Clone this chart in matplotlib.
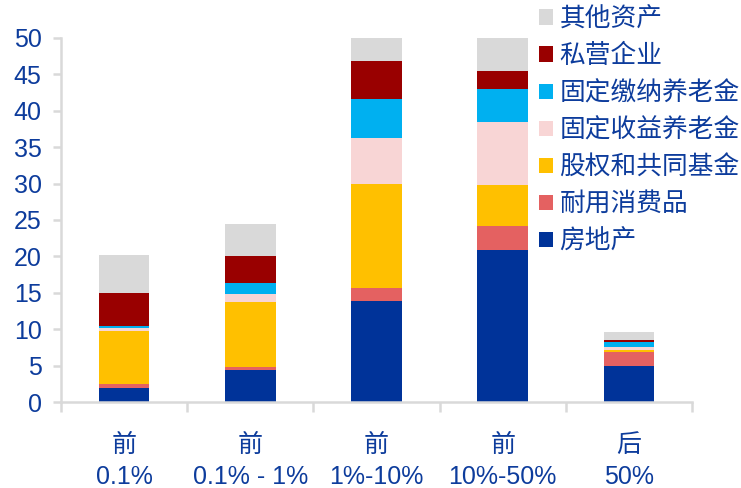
import matplotlib
matplotlib.use('Agg')
import matplotlib.pyplot as plt
from matplotlib.patches import Patch
import numpy as np

plt.rcParams['font.family'] = ['Liberation Sans', 'Noto Sans CJK SC']

categories = ['前\n0.1%', '前\n0.1% - 1%', '前\n1%-10%', '前\n10%-50%', '后\n50%']

series_names = ['房地产', '耐用消费品', '股权和共同基金', '固定收益养老金',
                '固定缴纳养老金', '私营企业', '其他资产']
real_estate = [1.9, 4.4, 13.9, 20.9, 5.0]
durables = [0.6, 0.4, 1.7, 3.3, 1.8]
equity_funds = [7.3, 9.0, 14.3, 5.6, 0.3]
db_pension = [0.35, 1.0, 6.3, 8.6, 0.5]
dc_pension = [0.25, 1.5, 5.4, 4.6, 0.7]
private_biz = [4.6, 3.8, 5.3, 2.4, 0.15]
other_assets = [5.2, 4.4, 3.2, 4.7, 1.15]

series = [real_estate, durables, equity_funds, db_pension,
          dc_pension, private_biz, other_assets]
colors = ['#003399', '#E46161', '#FFC000', '#F8D5D5',
          '#00B0F0', '#990000', '#D9D9D9']
txt_color = '#0D3C9C'
fs = 18

fig = plt.figure(figsize=(7.41, 4.88), dpi=100)
ax = fig.add_axes([61 / 741, 1 - 402 / 488, 631 / 741, 364 / 488])

x = np.arange(len(categories))
bottom = np.zeros(len(categories))
for vals, name, c in zip(series, series_names, colors):
    ax.bar(x, vals, bottom=bottom, width=0.4, color=c, label=name,
           edgecolor='none', zorder=2)
    bottom += np.array(vals)

ax.set_xlim(-0.5, len(categories) - 0.5)
ax.set_ylim(0, 50)
ax.set_yticks(range(0, 51, 5))

for s in ['top', 'right']:
    ax.spines[s].set_visible(False)
for s in ['left', 'bottom']:
    ax.spines[s].set_color('#D9D9D9')
    ax.spines[s].set_linewidth(1.8)

ax.set_xticks(x)
ax.set_xticklabels(categories, fontsize=fs, color=txt_color, linespacing=1.45)
ax.set_xticks(np.arange(-0.5, len(categories), 1), minor=True)
ax.tick_params(axis='x', which='major', length=0, pad=22)
ax.tick_params(axis='x', which='minor', length=7, width=1.8, color='#D9D9D9')
ax.tick_params(axis='y', length=6, width=1.8, color='#D9D9D9',
               labelsize=fs, labelcolor=txt_color, pad=8)

# legend sits over the top-right of the plot, as in the original
handles = [Patch(facecolor=c, edgecolor='none') for c in colors][::-1]
leg = fig.legend(handles, series_names[::-1], loc='upper left',
                 bbox_to_anchor=(539 / 741, 1 - 7 / 488), frameon=False,
                 fontsize=18.5, handlelength=0.55, handleheight=0.55,
                 handletextpad=0.25, labelspacing=0.5, borderaxespad=0.0,
                 borderpad=0.0)
for t in leg.get_texts():
    t.set_color(txt_color)

fig.savefig('out.png', dpi=100)
